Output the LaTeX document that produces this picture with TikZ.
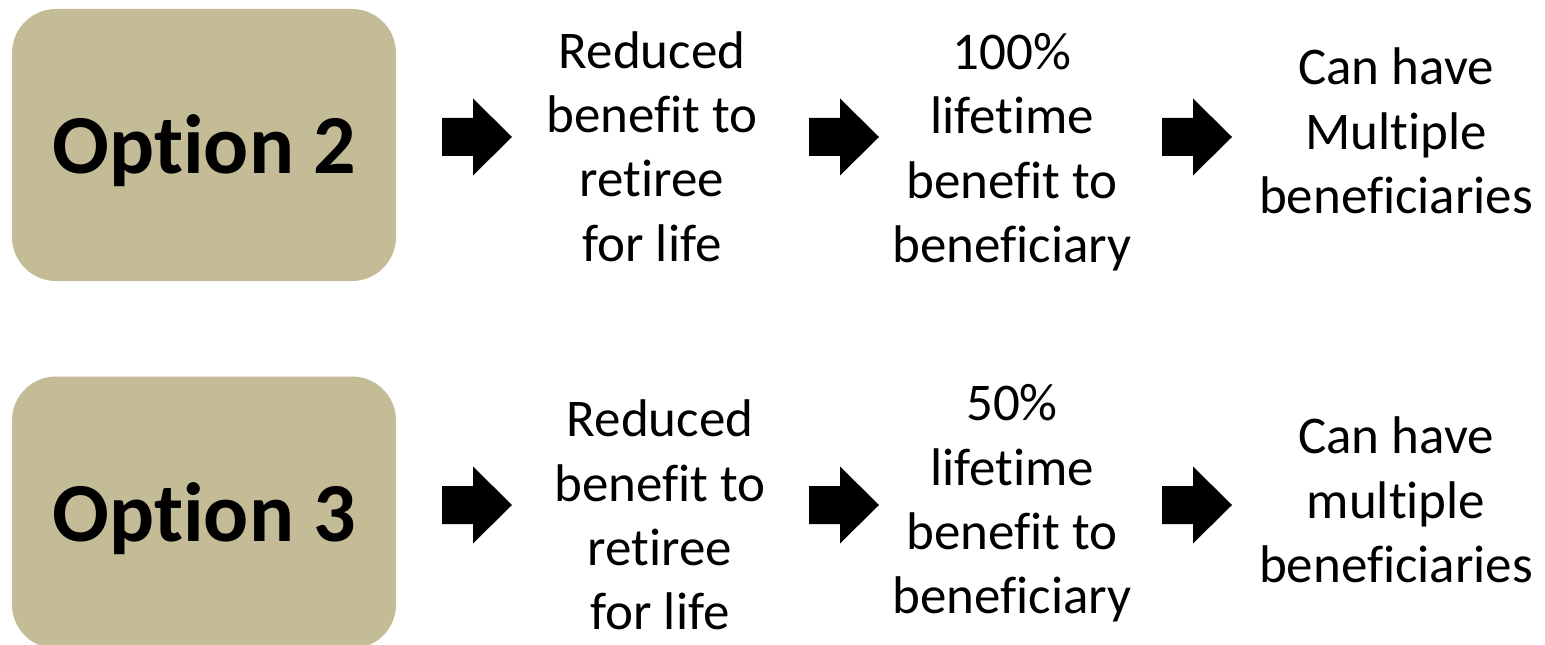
\documentclass[tikz,border=0pt]{standalone}
\usepackage{fontspec}
\setmainfont[Ligatures={NoCommon,NoRare,NoContextual}]{Carlito}
\definecolor{optfill}{HTML}{C4BC96}
\begin{document}
\begin{tikzpicture}[x=1bp,y=-1bp,
  optbox/.style={draw=none,fill=optfill,rounded corners=44bp,minimum width=384bp,minimum height=272bp,inner sep=0pt,
    font=\fontsize{84bp}{100bp}\selectfont\bfseries,text height=57bp,text depth=0pt},
  txt/.style={align=center,inner sep=0pt,font=\fontsize{53bp}{64.4bp}\selectfont},
  rarrow/.style={fill=black}]
\useasboundingbox (0,0) rectangle (1545,645);
\begin{scope}
\clip (0,0) rectangle (1545,645);
% row 1
\node[optbox] (o2) at (204,145) {Option 2};
\node[txt] (r1) at (652,146.5) {Reduced\\benefit to\\retiree\\for life};
\node[txt] (h1) at (1012,152) {100\%\\lifetime\\benefit to\\beneficiary};
\node[txt] (m1) at (1396,131) {Can have\\Multiple\\beneficiaries};
% row 2
\node[optbox] (o3) at (204,512.5) {Option 3};
\node[txt] (r2) at (660,515) {Reduced\\benefit to\\retiree\\for life};
\node[txt] (h2) at (1012,503.5) {50\%\\lifetime\\benefit to\\beneficiary};
\node[txt] (m2) at (1396,500) {Can have\\multiple\\beneficiaries};
\end{scope}
% arrows
\coordinate (t11) at (512,137);
\coordinate (t12) at (879,137);
\coordinate (t13) at (1232,137);
\coordinate (t21) at (512,505);
\coordinate (t22) at (879,505);
\coordinate (t23) at (1232,505);
\foreach \t in {t11,t12,t13,t21,t22,t23}{
  \fill[rarrow] (\t) -- ++(-39,-38.5) -- ++(0,19.5) -- ++(-31,0) -- ++(0,38) -- ++(31,0) -- ++(0,19.5) -- cycle;
}
\end{tikzpicture}
\end{document}
